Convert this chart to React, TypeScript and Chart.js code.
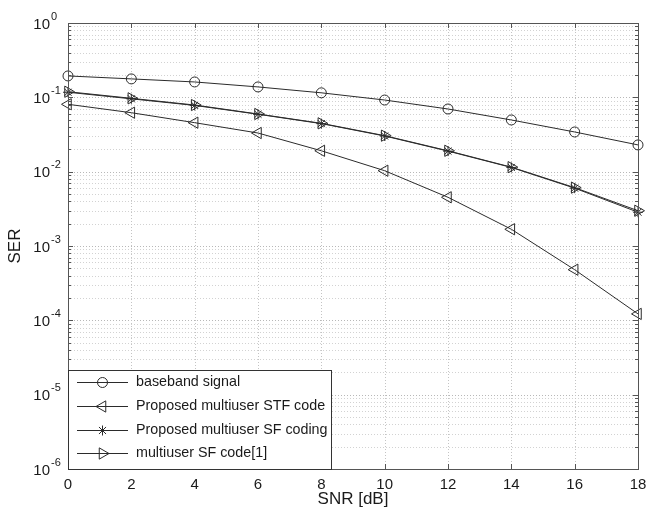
import React, { useEffect, useRef } from 'react';
import { Chart, registerables } from 'chart.js';

Chart.register(...registerables);

const snr = [0, 2, 4, 6, 8, 10, 12, 14, 16, 18];
const baseband = [0.194, 0.177, 0.161, 0.138, 0.115, 0.092, 0.0697, 0.0496, 0.0342, 0.0229];
const stfProposed = [0.0806, 0.0621, 0.0456, 0.0331, 0.0191, 0.0103, 0.00452, 0.00168, 0.00048, 0.000122];
const sfProposed = [0.117, 0.0955, 0.0778, 0.0592, 0.0443, 0.0302, 0.0189, 0.0114, 0.006, 0.00285];
const sfRef = [0.119, 0.097, 0.0788, 0.0597, 0.0447, 0.0305, 0.0191, 0.0115, 0.0061, 0.00298];
const seriesNames = [
  'baseband signal',
  'Proposed multiuser STF code',
  'Proposed multiuser SF coding',
  'multiuser SF code[1]',
];
const xTickValues = [0, 2, 4, 6, 8, 10, 12, 14, 16, 18];
const yExponents = [0, -1, -2, -3, -4, -5, -6];
const xTitle = 'SNR [dB]';
const yTitle = 'SER';

const FONT = '"Liberation Sans", Arial, sans-serif';
const INK = '#1a1a1a';
const LINE = '#2b2b2b';

const markers = [
  { style: 'circle', rotation: 0, radius: 5 },
  { style: 'triangle', rotation: -90, radius: 6.5 },
  { style: 'star', rotation: 0, radius: 5 },
  { style: 'triangle', rotation: 90, radius: 6.5 },
];

function drawMarker(ctx: CanvasRenderingContext2D, style: string, rotation: number, r: number, x: number, y: number) {
  ctx.beginPath();
  if (style === 'circle') {
    ctx.arc(x, y, r, 0, Math.PI * 2);
  } else if (style === 'triangle') {
    let rad = (rotation * Math.PI) / 180;
    ctx.moveTo(x + Math.sin(rad) * r, y - Math.cos(rad) * r);
    rad += (2 * Math.PI) / 3;
    ctx.lineTo(x + Math.sin(rad) * r, y - Math.cos(rad) * r);
    rad += (2 * Math.PI) / 3;
    ctx.lineTo(x + Math.sin(rad) * r, y - Math.cos(rad) * r);
    ctx.closePath();
  } else if (style === 'star') {
    for (let i = 0; i < 4; i++) {
      const a = (i * Math.PI) / 4;
      ctx.moveTo(x + Math.cos(a) * r, y + Math.sin(a) * r);
      ctx.lineTo(x - Math.cos(a) * r, y - Math.sin(a) * r);
    }
  }
  ctx.stroke();
}

const gridPlugin = {
  id: 'dottedGrid',
  beforeDatasetsDraw(chart: any) {
    const ctx: CanvasRenderingContext2D = chart.ctx;
    const { left, right, top, bottom } = chart.chartArea;
    const xs = chart.scales.x;
    const ys = chart.scales.y;
    ctx.save();
    ctx.lineWidth = 1;
    ctx.setLineDash([1, 2]);
    for (let e = -6; e < 0; e++) {
      for (let m = 2; m <= 9; m++) {
        const py = Math.round(ys.getPixelForValue(m * Math.pow(10, e))) + 0.5;
        ctx.strokeStyle = '#d2d2d2';
        ctx.beginPath();
        ctx.moveTo(left, py);
        ctx.lineTo(right, py);
        ctx.stroke();
      }
    }
    yExponents.forEach((e) => {
      const py = Math.round(ys.getPixelForValue(Math.pow(10, e))) + 0.5;
      ctx.strokeStyle = '#b8b8b8';
      ctx.beginPath();
      ctx.moveTo(left, py);
      ctx.lineTo(right, py);
      ctx.stroke();
    });
    xTickValues.forEach((v) => {
      const px = Math.round(xs.getPixelForValue(v)) + 0.5;
      ctx.strokeStyle = '#c4c4c4';
      ctx.beginPath();
      ctx.moveTo(px, top);
      ctx.lineTo(px, bottom);
      ctx.stroke();
    });
    ctx.restore();
  },
};

const decorPlugin = {
  id: 'matlabDecor',
  afterDraw(chart: any) {
    const ctx: CanvasRenderingContext2D = chart.ctx;
    const { left, right, top, bottom } = chart.chartArea;
    const xs = chart.scales.x;
    const ys = chart.scales.y;
    ctx.save();

    ctx.strokeStyle = '#555';
    ctx.lineWidth = 1;
    ctx.setLineDash([]);
    ctx.strokeRect(Math.round(left) + 0.5, Math.round(top) + 0.5, Math.round(right - left), Math.round(bottom - top));

    ctx.beginPath();
    xTickValues.forEach((v) => {
      const px = Math.round(xs.getPixelForValue(v)) + 0.5;
      ctx.moveTo(px, bottom);
      ctx.lineTo(px, bottom - 5);
      ctx.moveTo(px, top);
      ctx.lineTo(px, top + 5);
    });
    for (let e = -6; e <= 0; e++) {
      for (let m = 1; m <= 9; m++) {
        const v = m * Math.pow(10, e);
        if (v > 1.0000001) break;
        const py = Math.round(ys.getPixelForValue(v)) + 0.5;
        const len = m === 1 ? 5 : 3;
        ctx.moveTo(left, py);
        ctx.lineTo(left + len, py);
        ctx.moveTo(right, py);
        ctx.lineTo(right - len, py);
      }
    }
    ctx.stroke();

    ctx.fillStyle = INK;
    yExponents.forEach((e) => {
      const py = ys.getPixelForValue(Math.pow(10, e));
      ctx.font = `15px ${FONT}`;
      ctx.textAlign = 'right';
      ctx.textBaseline = 'alphabetic';
      ctx.fillText('10', 50, py + 5.5);
      ctx.font = `11px ${FONT}`;
      ctx.textAlign = 'left';
      ctx.fillText(e === 0 ? '0' : `-${-e}`, 51, py - 3.5);
    });

    ctx.font = `17px ${FONT}`;
    ctx.textAlign = 'center';
    ctx.textBaseline = 'middle';
    ctx.fillText(xTitle, (left + right) / 2, 499);
    ctx.save();
    ctx.translate(15, (top + bottom) / 2);
    ctx.rotate(-Math.PI / 2);
    ctx.fillText(yTitle, 0, 0);
    ctx.restore();

    const lx = Math.round(left) + 0.5;
    const ly = 370.5;
    const lw = 263;
    const lh = Math.round(bottom) - 370;
    ctx.fillStyle = '#ffffff';
    ctx.fillRect(lx, ly, lw, lh);
    ctx.strokeStyle = '#333';
    ctx.strokeRect(lx, ly, lw, lh);
    const rows = [382, 406, 430, 453];
    seriesNames.forEach((name, i) => {
      const ry = rows[i] + 0.5;
      ctx.strokeStyle = LINE;
      ctx.lineWidth = 1;
      ctx.beginPath();
      ctx.moveTo(77, ry);
      ctx.lineTo(128, ry);
      ctx.stroke();
      const mk = markers[i];
      drawMarker(ctx, mk.style, mk.rotation, mk.radius, 102.5, ry);
      ctx.fillStyle = INK;
      ctx.font = `14.3px ${FONT}`;
      ctx.textAlign = 'left';
      ctx.textBaseline = 'middle';
      ctx.fillText(name, 136, ry);
    });

    ctx.restore();
  },
};

export default function App() {
  const ref = useRef<HTMLCanvasElement | null>(null);

  useEffect(() => {
    if (!ref.current) return;
    const seriesValues = [baseband, stfProposed, sfProposed, sfRef];
    const datasets = seriesValues.map((vals, i) => ({
      label: seriesNames[i],
      data: vals.map((v, j) => ({ x: snr[j], y: v })),
      borderColor: LINE,
      borderWidth: 1,
      backgroundColor: 'transparent',
      pointStyle: markers[i].style,
      pointRotation: markers[i].rotation,
      pointRadius: markers[i].radius,
      pointBorderColor: LINE,
      pointBackgroundColor: 'transparent',
      pointBorderWidth: 1,
      tension: 0,
      clip: false,
    }));

    const chart = new Chart(ref.current, {
      type: 'line',
      data: { datasets },
      options: {
        animation: false,
        responsive: false,
        devicePixelRatio: 1,
        layout: { padding: { top: 23, right: 9, left: 0, bottom: 0 } },
        plugins: { legend: { display: false }, tooltip: { enabled: false } },
        scales: {
          x: {
            type: 'linear',
            min: 0,
            max: 18,
            afterFit: (s: any) => {
              s.height = 48;
              s.paddingLeft = 0;
              s.paddingRight = 0;
            },
            ticks: {
              stepSize: 2,
              font: { size: 15, family: FONT },
              color: INK,
              padding: 7,
              maxRotation: 0,
            },
            grid: { display: false, drawTicks: false },
            border: { display: false },
          },
          y: {
            type: 'logarithmic',
            min: 1e-6,
            max: 1,
            afterFit: (s: any) => {
              s.width = 68;
              s.paddingTop = 0;
              s.paddingBottom = 0;
            },
            ticks: { display: false, autoSkip: false },
            grid: { display: false, drawTicks: false },
            border: { display: false },
          },
        },
      },
      plugins: [gridPlugin, decorPlugin],
    } as any);

    return () => chart.destroy();
  }, []);

  return (
    <div style={{ position: 'fixed', left: 0, top: 0, width: 647, height: 517, background: '#fff' }}>
      <canvas ref={ref} width={647} height={517} style={{ width: 647, height: 517, display: 'block' }} />
    </div>
  );
}
